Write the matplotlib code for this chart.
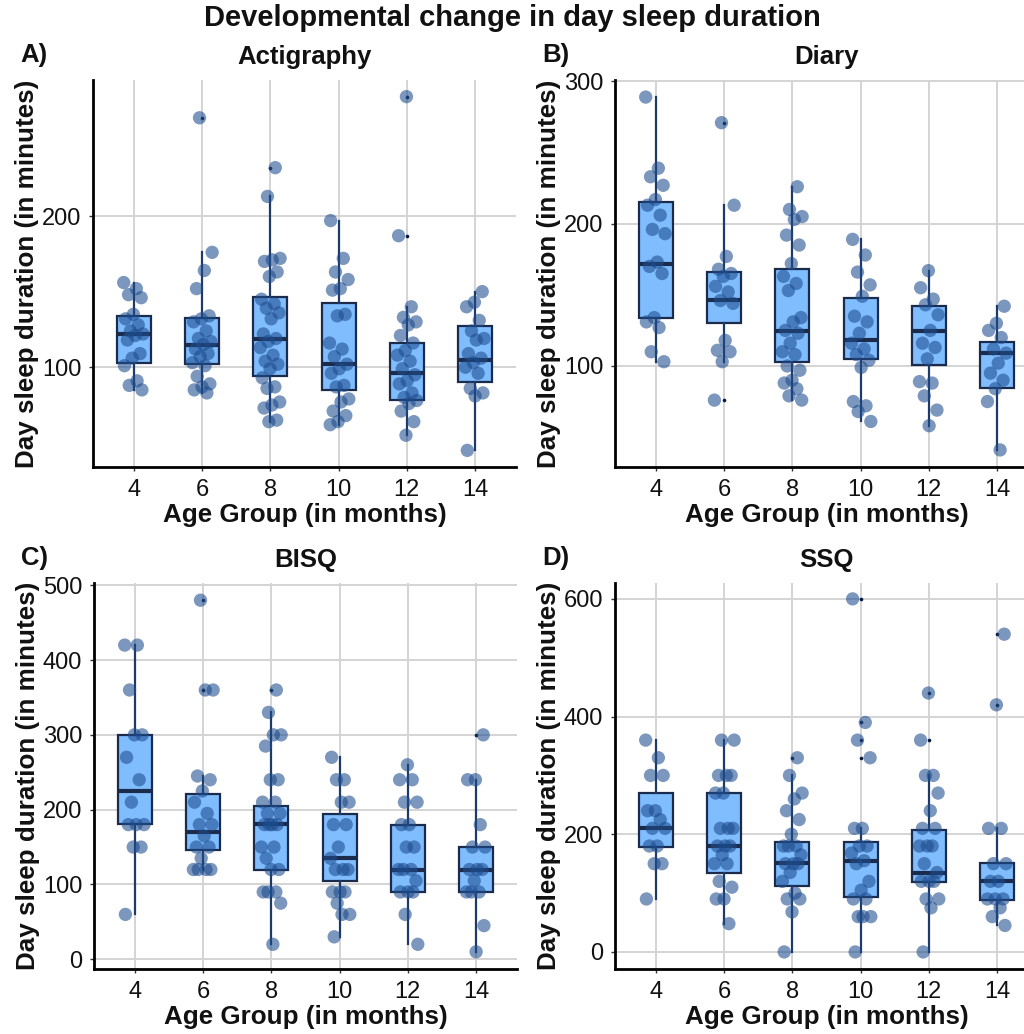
import matplotlib
matplotlib.use("Agg")
import matplotlib.pyplot as plt

plt.rcParams['font.family'] = ['Liberation Sans', 'DejaVu Sans']

# ---------------- data ----------------
ages = [4, 6, 8, 10, 12, 14]
age_labels = ['4', '6', '8', '10', '12', '14']
panel_titles = ['Actigraphy', 'Diary', 'BISQ', 'SSQ']
panel_letters = ['A)', 'B)', 'C)', 'D)']
main_title = 'Developmental change in day sleep duration'
x_label = 'Age Group (in months)'
y_label = 'Day sleep duration (in minutes)'

# Actigraphy
act_4 = [156, 152, 148, 146, 135, 132, 128, 124, 122, 121, 118, 109, 106, 101, 91, 88, 85]
act_6 = [265, 176, 164, 152, 134, 132, 130, 124, 119, 117, 115, 112, 109, 107, 103, 101, 94, 89, 87, 85, 83]
act_8 = [232, 213, 172, 171, 170, 163, 160, 145, 142, 139, 136, 132, 122, 119, 117, 113, 108, 104, 102, 99,
         93, 87, 86, 77, 75, 73, 65, 64]
act_10 = [197, 172, 163, 158, 152, 151, 135, 134, 116, 112, 107, 102, 99, 96, 88, 87, 79, 77, 71, 68, 64, 62]
act_12 = [279, 187, 140, 133, 130, 128, 121, 116, 111, 108, 104, 99, 95, 91, 89, 83, 80, 78, 76, 71, 64, 55]
act_14 = [150, 143, 140, 131, 124, 119, 118, 109, 106, 103, 100, 96, 86, 83, 81, 45]
act_q1 = [103, 102, 94.5, 85, 78, 90.5]
act_med = [122, 115, 119, 102, 96, 105]
act_q3 = [134, 132.5, 146.5, 142.5, 116, 127]
act_lo = [85, 83, 64, 62, 55, 45]
act_hi = [156, 176, 213, 197, 140, 150]

# Diary
dia_4 = [289, 239, 233, 227, 217, 213, 206, 196, 193, 173, 170, 165, 134, 131, 127, 110, 103]
dia_6 = [271, 213, 177, 168, 165, 163, 156, 152, 146, 144, 118, 111, 110, 103, 76]
dia_8 = [226, 210, 205, 203, 192, 185, 172, 163, 158, 153, 134, 131, 125, 123, 116, 110, 108, 100, 97, 90,
         88, 84, 79, 76]
dia_10 = [189, 178, 166, 157, 149, 135, 131, 123, 116, 112, 108, 104, 99, 75, 72, 68, 61]
dia_12 = [167, 155, 147, 143, 136, 125, 116, 113, 105, 89, 88, 79, 69, 58]
dia_14 = [142, 130, 125, 120, 112, 109, 102, 95, 90, 84, 75, 41]
dia_q1 = [134, 130.5, 103, 105, 101, 84.5]
dia_med = [171.5, 146.5, 124.5, 118, 124.5, 109]
dia_q3 = [215.5, 166, 168, 147.5, 142, 117]
dia_lo = [103, 103, 76, 61, 58, 41]
dia_hi = [289, 213, 226, 189, 167, 142]

# BISQ
bis_4 = [420, 420, 360, 300, 300, 270, 240, 210, 180, 180, 180, 150, 150, 60]
bis_6 = [480, 360, 360, 245, 240, 225, 210, 195, 180, 180, 165, 150, 150, 135, 120, 120, 120, 120]
bis_8 = [360, 330, 300, 300, 285, 240, 240, 210, 210, 195, 195, 180, 180, 180, 180, 150, 150, 135, 120, 120,
         90, 90, 90, 75, 20]
bis_10 = [270, 240, 240, 210, 210, 180, 180, 150, 135, 120, 120, 120, 90, 90, 90, 75, 60, 60, 30]
bis_12 = [260, 240, 240, 210, 210, 180, 180, 150, 150, 120, 120, 120, 105, 90, 90, 90, 60, 20]
bis_14 = [300, 240, 240, 180, 150, 150, 120, 120, 120, 105, 90, 90, 90, 45, 10]
bis_q1 = [180.5, 146, 119.5, 104.5, 89.5, 89.5]
bis_med = [225, 170, 180.5, 135, 120, 120]
bis_q3 = [300, 220.5, 205.5, 194, 179.5, 149.5]
bis_lo = [60, 120, 20, 30, 20, 10]
bis_hi = [420, 245, 330, 270, 260, 240]

# SSQ
ssq_4 = [360, 330, 300, 300, 240, 240, 225, 210, 210, 180, 180, 150, 150, 90]
ssq_6 = [360, 360, 300, 300, 300, 270, 270, 210, 210, 210, 180, 180, 180, 165, 150, 150, 120, 110, 90, 90, 48]
ssq_8 = [330, 300, 270, 260, 240, 225, 200, 180, 180, 180, 165, 150, 150, 150, 135, 120, 100, 90, 90, 68, 0]
ssq_10 = [600, 390, 360, 330, 210, 210, 180, 180, 168, 155, 150, 120, 105, 90, 90, 60, 60, 60, 0]
ssq_12 = [440, 360, 300, 300, 270, 240, 210, 210, 180, 180, 180, 150, 135, 120, 120, 120, 90, 90, 75, 0]
ssq_14 = [540, 420, 210, 210, 150, 150, 120, 120, 90, 90, 90, 75, 60, 45]
ssq_q1 = [179, 134.5, 112, 94, 119, 89]
ssq_med = [210, 180, 150.5, 155, 135, 120]
ssq_q3 = [269.5, 269.5, 187, 187, 208, 150.5]
ssq_lo = [90, 48, 0, 0, 0, 45]
ssq_hi = [360, 360, 300, 210, 300, 210]

# ---------------- style ----------------
W, H = 1024, 1034
fig = plt.figure(figsize=(W / 100, H / 100), dpi=100)
fig.patch.set_facecolor('white')

BOX_FILL = '#80BDFF'
BOX_EDGE = '#1B2B4B'
WHISK = '#1E3A68'
PT = '#1D4C8E'
TXT = '#111111'


def jitter(n, k):
    # deterministic spread of n points within +-0.15 of the category centre
    return [((j * 0.6180339887 + k * 0.37) % 1.0 - 0.5) * 0.30 for j in range(n)]


def panel(px, groups, q1, med, q3, lo, hi, ylim, yticks, title, letter):
    x0, y0, x1, y1 = px
    ax = fig.add_axes([x0 / W, 1 - y1 / H, (x1 - x0) / W, (y1 - y0) / H])
    pos = list(range(1, len(ages) + 1))
    stats = []
    for i, g in enumerate(groups):
        fl = [v for v in g if v > hi[i] or v < lo[i]]
        stats.append(dict(med=med[i], q1=q1[i], q3=q3[i], whislo=lo[i], whishi=hi[i], fliers=fl))
    ax.bxp(stats, positions=pos, widths=0.5, patch_artist=True, showcaps=False,
           boxprops=dict(facecolor=BOX_FILL, edgecolor=BOX_EDGE, linewidth=1.6),
           medianprops=dict(color=BOX_EDGE, linewidth=3.0),
           whiskerprops=dict(color=WHISK, linewidth=1.6),
           flierprops=dict(marker='o', markersize=2.6, markerfacecolor='#08183A',
                           markeredgecolor='none'),
           zorder=2)
    for i, g in enumerate(groups):
        xs = [pos[i] + d for d in jitter(len(g), i)]
        ax.scatter(xs, g, s=92, color=PT, alpha=0.58, edgecolors='none', zorder=3)
    ax.set_xlim(0.4, 6.6)
    ax.set_ylim(*ylim)
    ax.set_xticks(pos)
    ax.set_xticklabels(age_labels)
    ax.set_yticks(yticks)
    ax.grid(True, color='#D4D4D4', linewidth=1.4)
    ax.set_axisbelow(True)
    for s in ['top', 'right']:
        ax.spines[s].set_visible(False)
    for s in ['left', 'bottom']:
        ax.spines[s].set_linewidth(2.0)
        ax.spines[s].set_color('black')
    ax.tick_params(axis='both', length=3, width=1.0, color='#333333', labelsize=17,
                   labelcolor=TXT, pad=5.5)
    cx = (x0 + x1) / 2
    cy = (y0 + y1) / 2
    fig.text(cx / W, 1 - (y0 - 23) / H, title, ha='center', va='center',
             fontsize=18.5, fontweight='bold', color=TXT)
    fig.text((x0 - 73) / W, 1 - (y0 - 25) / H, letter, ha='left', va='center',
             fontsize=18.5, fontweight='bold', color=TXT)
    fig.text((x0 - 66) / W, 1 - cy / H, y_label, ha='center', va='center', rotation=90,
             fontsize=18.7, fontweight='bold', color=TXT)
    fig.text(cx / W, 1 - (y1 + 48) / H, x_label, ha='center', va='center',
             fontsize=18.7, fontweight='bold', color=TXT)
    return ax


panel((93, 80, 516, 467), [act_4, act_6, act_8, act_10, act_12, act_14],
      act_q1, act_med, act_q3, act_lo, act_hi, (34, 290), [100, 200],
      panel_titles[0], panel_letters[0])
panel((615, 80, 1038, 467), [dia_4, dia_6, dia_8, dia_10, dia_12, dia_14],
      dia_q1, dia_med, dia_q3, dia_lo, dia_hi, (29, 301), [100, 200, 300],
      panel_titles[1], panel_letters[1])
panel((94, 583, 517, 969), [bis_4, bis_6, bis_8, bis_10, bis_12, bis_14],
      bis_q1, bis_med, bis_q3, bis_lo, bis_hi, (-13, 503), [0, 100, 200, 300, 400, 500],
      panel_titles[2], panel_letters[2])
panel((615, 583, 1038, 969), [ssq_4, ssq_6, ssq_8, ssq_10, ssq_12, ssq_14],
      ssq_q1, ssq_med, ssq_q3, ssq_lo, ssq_hi, (-29, 627), [0, 200, 400, 600],
      panel_titles[3], panel_letters[3])

fig.text(512 / W, 1 - 18 / H, main_title, ha='center', va='center',
         fontsize=21, fontweight='bold', color=TXT)

fig.savefig('out.png', dpi=100, facecolor='white')
